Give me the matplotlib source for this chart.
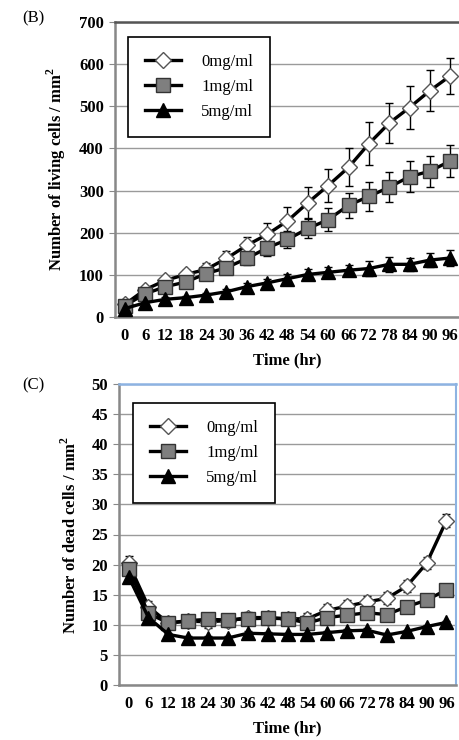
import numpy as np
import matplotlib.pyplot as plt
from matplotlib.lines import Line2D

plt.rcParams['font.family'] = ['Liberation Serif', 'DejaVu Serif']

hours = [0, 6, 12, 18, 24, 30, 36, 42, 48, 54, 60, 66, 72, 78, 84, 90, 96]
labels = ['0mg/ml', '1mg/ml', '5mg/ml']

# (B) living cells
live_0 = [30, 65, 87, 101, 113, 139, 170, 196, 228, 271, 312, 355, 411, 460, 497, 537, 572]
live_1 = [27, 55, 72, 83, 103, 117, 139, 164, 184, 210, 231, 265, 286, 308, 333, 346, 370]
live_5 = [20, 34, 42, 46, 52, 60, 72, 81, 91, 101, 106, 111, 115, 125, 125, 135, 140]
live_0_err = [5, 6, 8, 10, 14, 17, 20, 26, 32, 37, 40, 45, 51, 48, 50, 49, 43]
live_1_err = [4, 5, 6, 8, 10, 12, 15, 20, 20, 22, 27, 29, 35, 36, 36, 37, 37]
live_5_err = [4, 5, 5, 5, 6, 7, 8, 9, 10, 12, 13, 13, 18, 18, 16, 16, 18]

# (C) dead cells
dead_0 = [20.2, 13.0, 10.3, 10.6, 10.5, 10.7, 11.2, 11.2, 11.0, 11.0, 12.4, 13.1, 13.8, 14.4, 16.4, 20.2, 27.3]
dead_1 = [19.3, 11.9, 10.3, 10.7, 10.9, 10.8, 11.0, 11.1, 11.0, 10.3, 11.2, 11.6, 12.0, 11.7, 13.0, 14.1, 15.8]
dead_5 = [18.0, 11.2, 8.4, 7.8, 7.8, 7.8, 8.6, 8.5, 8.4, 8.4, 8.7, 9.0, 9.1, 8.3, 8.9, 9.7, 10.4]
dead_0_err = [1.2, 1.0, 1.0, 1.0, 1.0, 1.0, 1.0, 1.0, 1.0, 1.0, 1.0, 1.0, 1.0, 1.0, 1.0, 1.0, 1.1]
dead_1_err = [0.8, 0.7, 0.6, 0.8, 0.8, 0.8, 0.7, 0.7, 0.7, 0.6, 0.5, 0.5, 0.5, 0.5, 0.4, 0.4, 0.4]
dead_5_err = [0.5, 0.4, 0.3, 0.3, 0.3, 0.3, 0.3, 0.3, 0.3, 0.3, 0.3, 0.3, 0.3, 0.3, 0.3, 0.3, 0.3]

styles = [
    dict(marker='D', markersize=8.5, markerfacecolor='white', markeredgecolor='#555555', markeredgewidth=1.0),
    dict(marker='s', markersize=9.5, markerfacecolor='#7f7f7f', markeredgecolor='#333333', markeredgewidth=1.0),
    dict(marker='^', markersize=10, markerfacecolor='black', markeredgecolor='black', markeredgewidth=1.0),
]

fig = plt.figure(figsize=(4.6, 7.4), dpi=100)
W, H = 460, 740


def make_ax(left, top, right, bottom):
    return fig.add_axes([left / W, 1 - bottom / H, (right - left) / W, (bottom - top) / H])


def draw(ax, series, errs, ymax, ystep, ylabel, top_color, right_color, legend_box):
    for y, e, st in zip(series, errs, styles):
        ax.errorbar(hours, y, yerr=e, color='black', linewidth=2.4, capsize=3,
                    elinewidth=1.0, ecolor='black', zorder=3, **st)
    ax.set_xlim(-2.9, 98.9)
    ax.set_ylim(0, ymax)
    ax.set_xticks(hours)
    ax.set_yticks(np.arange(0, ymax + 1, ystep))
    ax.yaxis.grid(True, color='#9a9a9a', linewidth=1.0)
    ax.set_axisbelow(True)
    for lab in ax.get_xticklabels() + ax.get_yticklabels():
        lab.set_fontweight('bold')
    ax.tick_params(axis='x', length=0, labelsize=12, pad=8)
    ax.tick_params(axis='y', length=4, color='#888888', labelsize=12, pad=4)
    ax.spines['left'].set_color('#888888')
    ax.spines['left'].set_linewidth(1.8)
    ax.spines['bottom'].set_color('#888888')
    ax.spines['bottom'].set_linewidth(1.8)
    ax.spines['top'].set_color(top_color)
    ax.spines['top'].set_linewidth(1.8)
    if right_color is None:
        ax.spines['right'].set_visible(False)
    else:
        ax.spines['right'].set_color(right_color)
        ax.spines['right'].set_linewidth(1.5)
    ax.set_xlabel('Time (hr)', fontweight='bold', fontsize=12, labelpad=6)
    ax.set_ylabel(ylabel, fontweight='bold', fontsize=12, labelpad=8)
    handles = [Line2D([], [], color='black', linewidth=2.4, **st) for st in styles]
    leg = ax.legend(handles, labels, loc='upper left', bbox_to_anchor=legend_box, fontsize=12,
                    frameon=True, fancybox=False, edgecolor='black', framealpha=1,
                    handlelength=2.2, handletextpad=1.2, labelspacing=0.55,
                    borderpad=1.0, borderaxespad=0)
    leg.get_frame().set_linewidth(1.2)


ax1 = make_ax(115, 22, 460, 317)
draw(ax1, [live_0, live_1, live_5], [live_0_err, live_1_err, live_5_err],
     700, 100, 'Number of living cells / mm$^\\mathregular{2}$', '#555555', None,
     ((128 - 115) / 345, (317 - 37) / 295))

ax2 = make_ax(119, 384, 456, 685)
draw(ax2, [dead_0, dead_1, dead_5], [dead_0_err, dead_1_err, dead_5_err],
     50, 5, 'Number of dead cells / mm$^\\mathregular{2}$', '#8db3e2', '#8db3e2',
     ((133 - 119) / 337, (685 - 403) / 301))

fig.text(33 / W, 1 - 18 / H, '(B)', fontsize=12, ha='center', va='center')
fig.text(33 / W, 1 - 385 / H, '(C)', fontsize=12, ha='center', va='center')

plt.savefig('out.png', dpi=100)
